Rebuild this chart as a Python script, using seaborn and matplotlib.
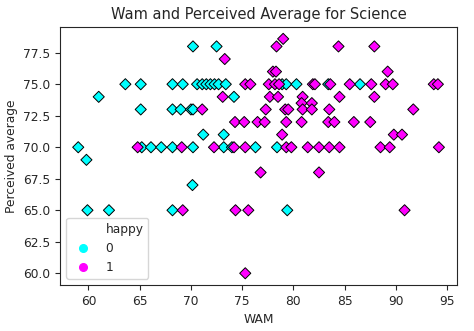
import matplotlib
matplotlib.use("Agg")
import matplotlib.pyplot as plt
import seaborn as sns
import pandas as pd
from matplotlib.lines import Line2D

# happy = 0 (cyan)
wam_0 = [70.2, 72.5,
         63.6, 65.1, 68.2, 69.2, 70.6, 71.1, 71.5, 71.9, 72.3, 72.7, 73.4, 78.9, 79.3, 80.3, 83.4, 86.5,
         61.0, 74.2,
         65.1, 68.2, 69.0, 70.0, 70.2,
         71.2, 73.2,
         59.0, 65.2, 66.1, 67.1, 68.2, 70.2, 73.2, 74.0, 76.3, 78.4,
         59.8,
         70.15,
         59.9, 62.0, 68.2, 79.4]
perc_0 = [78, 78,
          75, 75, 75, 75, 75, 75, 75, 75, 75, 75, 75, 75, 75, 75, 75, 75,
          74, 74,
          73, 73, 73, 73, 73,
          71, 71,
          70, 70, 70, 70, 70, 70, 70, 70, 70, 70,
          69,
          67,
          65, 65, 65, 65]

# happy = 1 (magenta)
wam_1 = [79.0,
         78.35, 84.4, 87.9,
         73.3,
         78.0, 78.3, 89.2,
         75.3, 75.8, 77.6, 78.2, 78.6, 81.9, 82.1, 83.6, 85.5, 87.6, 89.0, 89.7, 93.7, 94.1,
         73.1, 77.7, 78.5, 80.9, 84.5, 87.9,
         80.8, 81.8,
         71.1, 77.3, 79.2, 79.5, 80.9, 81.8, 83.5, 91.7,
         74.3, 75.2, 76.5, 77.2, 79.3, 80.8, 83.4, 84.0, 85.9, 87.5,
         78.9, 89.8, 90.6,
         64.8, 69.1, 72.25, 74.2, 75.3, 79.3, 79.8, 81.4, 82.5, 83.5, 84.5, 88.5, 89.4, 94.2,
         76.8, 82.5,
         69.2, 74.35, 75.6, 90.85,
         75.3]
perc_1 = [78.6,
          78, 78, 78,
          77,
          76, 76, 76,
          75, 75, 75, 75, 75, 75, 75, 75, 75, 75, 75, 75, 75, 75,
          74, 74, 74, 74, 74, 74,
          73.5, 73.5,
          73, 73, 73, 73, 73, 73, 73, 73,
          72, 72, 72, 72, 72, 72, 72, 72, 72, 72,
          71, 71, 71,
          70, 70, 70, 70, 70, 70, 70, 70, 70, 70, 70, 70, 70, 70,
          68, 68,
          65, 65, 65, 65,
          60]

x_ticks = [60, 65, 70, 75, 80, 85, 90, 95]
colors = {0: "#00FFFF", 1: "#FF00FF"}

df = pd.DataFrame({
    "WAM": wam_0 + wam_1,
    "Perceived average": perc_0 + perc_1,
    "happy": [0] * len(wam_0) + [1] * len(wam_1),
})

sns.set_style("ticks")
plt.rcParams["font.size"] = 8.8
plt.rcParams["font.family"] = ["DejaVu Sans"]
fig, ax = plt.subplots(figsize=(4.74, 3.31), dpi=100)
sns.scatterplot(data=df, x="WAM", y="Perceived average", hue="happy",
                palette=colors, marker="D", s=32,
                edgecolor="black", linewidth=0.7, ax=ax, legend=False)

handles = [Line2D([], [], linestyle="", marker=None)]
handles += [Line2D([], [], linestyle="", marker="o", markersize=5.5,
                   markerfacecolor=colors[k], markeredgecolor=colors[k]) for k in (0, 1)]
ax.legend(handles, ["happy", "0", "1"], loc="lower left")
ax.set_title("Wam and Perceived Average for Science")
ax.set_xticks(x_ticks)
fig.subplots_adjust(left=0.127, right=0.964, top=0.918, bottom=0.139)
fig.savefig("out.png", dpi=100)
